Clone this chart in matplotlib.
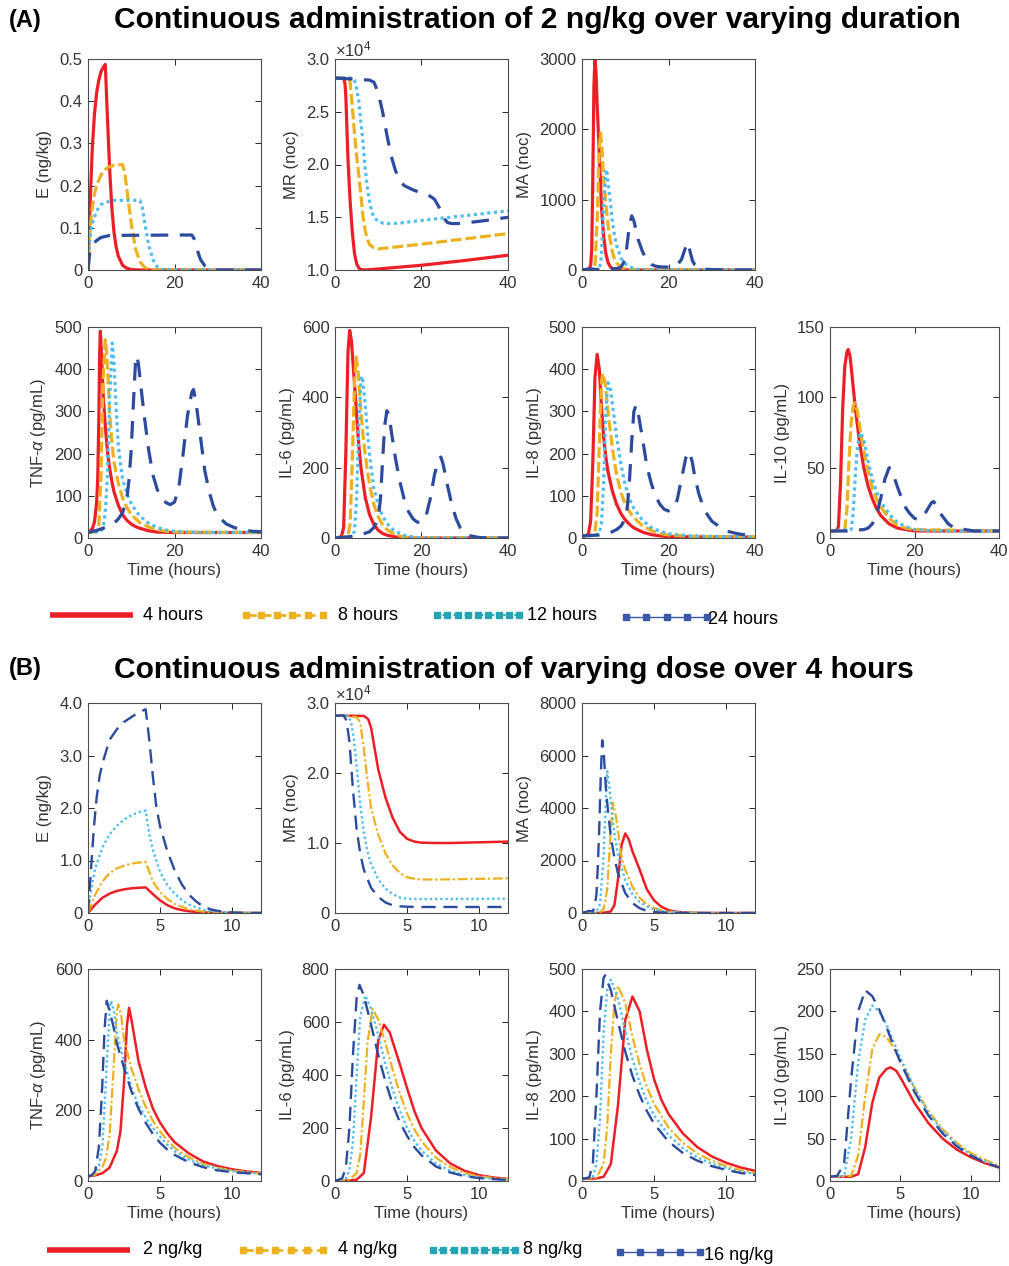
import matplotlib.pyplot as plt

plt.rcParams['font.family'] = ['Liberation Sans', 'DejaVu Sans']
plt.rcParams['mathtext.fontset'] = 'custom'
plt.rcParams['mathtext.rm'] = 'Liberation Sans'
plt.rcParams['mathtext.it'] = 'Liberation Sans:italic'

W, H = 1009, 1266

RED = '#EC1E26'
YEL = '#EDB120'
LBL = '#4DBEEE'
DBL = '#2D4B9E'
TEAL = '#25A5B3'
AXC = '#4d4d4d'

# ---------------- (A) 2 ng/kg over 4, 8, 12, 24 hours : (time h, value) ----------------
A_E = {
    '4 hours': [(0, 0), (0.25, 0.09), (0.5, 0.16), (1, 0.29), (1.5, 0.37), (2, 0.42), (2.5, 0.45),
                (3, 0.47), (3.5, 0.48), (4, 0.487), (4.5, 0.36), (5, 0.24), (5.5, 0.15), (6, 0.09),
                (6.5, 0.055), (7, 0.033), (8, 0.011), (9, 0.004), (10, 0.001), (12, 0), (40, 0)],
    '8 hours': [(0, 0), (0.25, 0.06), (0.5, 0.1), (1, 0.15), (1.5, 0.18), (2, 0.2), (3, 0.225), (4, 0.238),
                (5, 0.245), (6, 0.248), (8, 0.25), (8.5, 0.23), (9, 0.19), (9.5, 0.15), (10, 0.11),
                (10.5, 0.08), (11, 0.05), (12, 0.02), (13, 0.007), (14, 0.002), (15, 0), (40, 0)],
    '12 hours': [(0, 0), (0.25, 0.05), (0.5, 0.08), (1, 0.11), (2, 0.14), (3, 0.155), (4, 0.16), (6, 0.165),
                 (12, 0.165), (12.5, 0.15), (13, 0.12), (13.5, 0.09), (14, 0.06), (15, 0.025), (16, 0.008),
                 (17, 0.002), (18, 0), (40, 0)],
    '24 hours': [(0, 0), (0.5, 0.05), (1, 0.06), (2, 0.07), (3, 0.077), (5, 0.082), (24, 0.083), (24.5, 0.075),
                 (25, 0.06), (25.5, 0.04), (26, 0.025), (27, 0.01), (28, 0.003), (30, 0), (40, 0)],
}
A_MR = {  # x 1e4
    '4 hours': [(0, 2.82), (2, 2.815), (2.3, 2.77), (2.5, 2.65), (2.75, 2.35), (3, 2.05), (3.5, 1.65),
                (4, 1.36), (4.5, 1.16), (5, 1.06), (5.5, 1.02), (6, 1.005), (7, 1.0), (10, 1.01),
                (20, 1.045), (30, 1.09), (40, 1.14)],
    '8 hours': [(0, 2.82), (3, 2.82), (3.5, 2.78), (4, 2.55), (4.5, 2.3), (5, 2.08), (5.5, 1.9), (6, 1.7),
                (6.5, 1.5), (7, 1.37), (7.5, 1.29), (8, 1.24), (9, 1.21), (10, 1.2), (20, 1.245),
                (30, 1.295), (40, 1.345)],
    '12 hours': [(0, 2.82), (4, 2.82), (4.5, 2.8), (5, 2.72), (5.5, 2.6), (6, 2.4), (6.5, 2.2), (7, 1.95),
                 (7.5, 1.78), (8, 1.65), (8.5, 1.55), (9, 1.5), (10, 1.46), (11, 1.445), (12, 1.44),
                 (15, 1.445), (20, 1.47), (30, 1.515), (40, 1.56)],
    '24 hours': [(0, 2.82), (4, 2.81), (8, 2.8), (9, 2.78), (10, 2.68), (11, 2.5), (12, 2.28), (13, 2.08),
                 (14, 1.94), (15, 1.85), (16, 1.8), (18, 1.76), (20, 1.73), (22, 1.7), (23, 1.67), (24, 1.6),
                 (25, 1.5), (26, 1.45), (27, 1.44), (28, 1.44), (30, 1.445), (35, 1.47), (40, 1.5)],
}
A_MA = {
    '4 hours': [(0, 0), (1, 0), (1.5, 10), (2, 60), (2.25, 300), (2.5, 1300), (2.75, 2600), (3, 3030),
                (3.25, 2800), (3.5, 2350), (4, 1650), (4.5, 900), (5, 480), (5.5, 240), (6, 110),
                (6.5, 50), (7, 20), (8, 5), (9, 0), (40, 0)],
    '8 hours': [(0, 0), (2, 0), (3, 50), (3.5, 700), (4, 1750), (4.3, 1950), (4.7, 1650), (5, 1300),
                (5.5, 950), (6, 650), (6.5, 430), (7, 260), (7.5, 160), (8, 100), (9, 40), (10, 15),
                (12, 0), (40, 0)],
    '12 hours': [(0, 0), (4, 0), (4.5, 200), (5, 900), (5.5, 1400), (5.7, 1430), (6, 1250), (6.5, 1000),
                 (7, 700), (7.5, 500), (8, 350), (9, 170), (10, 90), (11, 45), (12, 20), (14, 0), (40, 0)],
    '24 hours': [(0, 0), (1, 10), (2, 15), (4, 5), (6, 15), (8, 20), (9, 40), (10, 150), (10.5, 400),
                 (11, 650), (11.5, 770), (12, 700), (12.5, 560), (13, 430), (14, 260), (15, 140), (16, 80),
                 (17, 55), (18, 45), (20, 40), (21, 45), (22, 70), (23, 150), (24, 330), (24.5, 390),
                 (25, 260), (25.5, 140), (26, 80), (27, 35), (28, 15), (30, 5), (35, 0), (40, 0)],
}
A_TNF = {
    '4 hours': [(0, 13), (1, 22), (1.5, 38), (2, 85), (2.25, 140), (2.5, 280), (2.7, 440), (2.85, 490),
                (3, 460), (3.25, 400), (3.5, 340), (4, 265), (4.5, 205), (5, 165), (5.5, 135), (6, 110),
                (7, 78), (8, 55), (9, 42), (10, 33), (11, 27), (12, 23), (14, 17), (16, 14), (20, 13), (40, 13)],
    '8 hours': [(0, 13), (2, 15), (2.5, 30), (3, 150), (3.5, 380), (4, 470), (4.3, 440), (5, 300),
                (5.5, 230), (6, 180), (7, 130), (8, 95), (9, 72), (10, 56), (12, 36), (14, 26), (16, 20),
                (18, 16), (20, 14), (40, 13)],
    '12 hours': [(0, 13), (3, 15), (3.5, 25), (4, 60), (4.5, 150), (5, 330), (5.6, 462), (6, 420),
                 (6.5, 310), (7, 220), (7.5, 175), (8, 140), (9, 105), (10, 82), (11, 65), (12, 52),
                 (14, 35), (16, 25), (18, 19), (20, 16), (25, 13), (40, 13)],
    '24 hours': [(0, 13), (2, 18), (4, 25), (6, 35), (7, 45), (8, 60), (9, 95), (9.5, 140), (10, 210),
                 (10.5, 320), (11, 420), (11.3, 432), (11.7, 410), (12, 380), (13, 290), (14, 210),
                 (15, 150), (16, 115), (17, 95), (18, 84), (19, 79), (20, 85), (21, 120), (22, 200),
                 (23, 290), (24, 345), (24.4, 352), (25, 320), (26, 240), (27, 160), (28, 110), (29, 75),
                 (30, 52), (32, 33), (34, 24), (36, 19), (38, 16), (40, 15)],
}
A_IL6 = {
    '4 hours': [(0, 0), (1, 2), (1.5, 5), (2, 30), (2.5, 240), (3, 530), (3.4, 590), (3.8, 560), (4.5, 440),
                (5, 350), (5.5, 265), (6, 200), (7, 115), (8, 66), (9, 38), (10, 22), (11, 13), (12, 8),
                (14, 3), (16, 0), (40, 0)],
    '8 hours': [(0, 0), (2, 2), (3, 8), (3.5, 40), (4, 220), (4.5, 440), (4.9, 515), (5.3, 480), (6, 360),
                (6.5, 290), (7, 235), (8, 150), (9, 95), (10, 60), (11, 38), (12, 24), (14, 9), (16, 3),
                (18, 0), (40, 0)],
    '12 hours': [(0, 0), (3, 2), (4, 5), (4.5, 20), (5, 110), (5.5, 320), (6, 450), (6.3, 460), (7, 380),
                 (7.5, 300), (8, 235), (9, 140), (10, 95), (11, 62), (12, 42), (13, 28), (14, 18), (16, 8),
                 (18, 3), (20, 0), (40, 0)],
    '24 hours': [(0, 0), (2, 2), (4, 5), (6, 9), (8, 18), (9, 30), (10, 55), (10.5, 110), (11, 220),
                 (11.5, 320), (12, 362), (12.5, 350), (13, 305), (14, 225), (15, 160), (16, 110), (17, 75),
                 (18, 55), (19, 45), (20, 45), (21, 60), (22, 110), (23, 180), (24, 225), (24.5, 230),
                 (25, 210), (26, 150), (27, 95), (28, 55), (29, 28), (30, 14), (31, 7), (33, 2), (35, 0),
                 (40, 0)],
}
A_IL8 = {
    '4 hours': [(0, 5), (1, 6), (1.5, 10), (2, 40), (2.5, 180), (3, 380), (3.5, 435), (4, 400), (4.5, 310),
                (5, 240), (5.5, 192), (6, 158), (7, 112), (8, 80), (9, 58), (10, 43), (11, 32), (12, 24),
                (14, 14), (16, 8), (18, 5), (20, 3), (40, 2)],
    '8 hours': [(0, 5), (2, 6), (3, 15), (3.5, 60), (4, 220), (4.5, 370), (4.8, 390), (5.3, 370), (6, 300),
                (7, 215), (8, 150), (9, 108), (10, 80), (11, 62), (12, 48), (14, 29), (16, 18), (18, 11),
                (20, 7), (25, 4), (40, 2)],
    '12 hours': [(0, 5), (3, 6), (4, 12), (4.5, 35), (5, 130), (5.5, 300), (6, 368), (6.5, 360), (7, 320),
                 (8, 240), (9, 175), (10, 125), (11, 92), (12, 70), (14, 42), (16, 25), (18, 16), (20, 10),
                 (25, 5), (40, 2)],
    '24 hours': [(0, 5), (2, 6), (4, 7), (6, 10), (8, 20), (9, 28), (10, 45), (10.5, 75), (11, 140),
                 (11.5, 230), (12, 300), (12.5, 315), (13, 295), (14, 235), (15, 170), (16, 130), (17, 100),
                 (18, 80), (19, 68), (20, 64), (21, 68), (22, 90), (23, 140), (24, 190), (24.8, 205),
                 (25.5, 180), (26, 150), (27, 105), (28, 75), (29, 55), (30, 40), (32, 25), (34, 15),
                 (36, 10), (38, 7), (40, 5)],
}
A_IL10 = {
    '4 hours': [(0, 5), (1.5, 5), (2, 8), (2.5, 40), (3, 92), (3.5, 122), (4, 132), (4.3, 134), (4.7, 130),
                (5, 122), (6, 92), (7, 68), (8, 50), (9, 37), (10, 28), (11, 21), (12, 16), (14, 10), (16, 7),
                (18, 6), (20, 5), (40, 5)],
    '8 hours': [(0, 5), (3, 5), (3.5, 6), (4, 20), (4.5, 55), (5, 82), (5.5, 94), (5.9, 96), (6.5, 90),
                (7, 80), (8, 62), (9, 48), (10, 36), (11, 28), (12, 22), (14, 14), (16, 9), (18, 7), (20, 6),
                (40, 5)],
    '12 hours': [(0, 5), (5, 6), (5.5, 18), (6, 45), (6.5, 65), (7.2, 75), (8, 70), (9, 55), (10, 42),
                 (11, 33), (12, 26), (14, 17), (16, 11), (18, 8), (20, 6), (25, 5), (40, 5)],
    '24 hours': [(0, 5), (4, 5), (6, 5.5), (8, 6), (9, 7), (10, 10), (11, 16), (12, 28), (13, 42), (14, 50),
                 (15, 45), (16, 36), (17, 28), (18, 21), (19, 17), (20, 14), (21, 13), (22, 15), (23, 20),
                 (24, 25), (24.5, 26), (25, 24), (26, 18), (27, 14), (28, 10), (29, 8), (30, 7), (32, 6),
                 (34, 5), (40, 5)],
}

# ---------------- (B) 2, 4, 8, 16 ng/kg over 4 hours ----------------
B_E = {
    '2 ng/kg': [(0, 0), (0.25, 0.08), (0.5, 0.16), (1, 0.29), (1.5, 0.37), (2, 0.42), (2.5, 0.45), (3, 0.47),
                (3.5, 0.48), (4, 0.487), (4.5, 0.36), (5, 0.24), (5.5, 0.15), (6, 0.09), (6.5, 0.055),
                (7, 0.033), (8, 0.011), (9, 0.004), (10, 0.001), (12, 0)],
    '4 ng/kg': [(0, 0), (0.25, 0.17), (0.5, 0.35), (1, 0.6), (1.5, 0.76), (2, 0.85), (2.5, 0.9), (3, 0.94),
                (3.5, 0.96), (4, 0.97), (4.5, 0.6), (5, 0.4), (5.5, 0.27), (6, 0.17), (7, 0.07), (8, 0.025),
                (9, 0.008), (10, 0.002), (12, 0)],
    '8 ng/kg': [(0, 0), (0.25, 0.5), (0.5, 0.85), (1, 1.25), (1.5, 1.5), (2, 1.66), (2.5, 1.78), (3, 1.86),
                (3.5, 1.92), (4, 1.95), (4.25, 1.5), (4.5, 1.2), (5, 0.78), (5.5, 0.53), (6, 0.37),
                (6.5, 0.25), (7, 0.16), (8, 0.06), (9, 0.02), (10, 0.005), (12, 0)],
    '16 ng/kg': [(0, 0), (0.2, 0.8), (0.4, 1.6), (0.6, 2.2), (0.8, 2.6), (1, 2.85), (1.5, 3.3), (2, 3.5),
                 (2.5, 3.64), (3, 3.73), (3.5, 3.82), (4, 3.88), (4.25, 3.3), (4.5, 2.6), (4.75, 2.0),
                 (5, 1.65), (5.5, 1.18), (6, 0.82), (6.5, 0.55), (7, 0.35), (7.5, 0.22), (8, 0.12),
                 (8.5, 0.07), (9, 0.04), (10, 0.01), (11, 0.003), (12, 0)],
}
B_MR = {  # x 1e4
    '2 ng/kg': [(0, 2.82), (2, 2.815), (2.3, 2.77), (2.5, 2.65), (2.75, 2.35), (3, 2.05), (3.5, 1.65),
                (4, 1.36), (4.5, 1.16), (5, 1.06), (5.5, 1.02), (6, 1.005), (7, 1.0), (8, 1.0), (10, 1.01),
                (12, 1.02)],
    '4 ng/kg': [(0, 2.82), (1.5, 2.8), (1.75, 2.72), (2, 2.35), (2.25, 1.9), (2.5, 1.5), (3, 1.12),
                (3.5, 0.85), (4, 0.68), (4.5, 0.57), (5, 0.51), (5.5, 0.49), (6, 0.48), (7, 0.478),
                (9, 0.485), (12, 0.495)],
    '8 ng/kg': [(0, 2.82), (0.8, 2.82), (1.1, 2.75), (1.3, 2.5), (1.5, 2.1), (1.75, 1.55), (2, 1.15),
                (2.25, 0.88), (2.5, 0.7), (3, 0.48), (3.5, 0.35), (4, 0.27), (4.5, 0.22), (5, 0.205),
                (6, 0.2), (8, 0.2), (12, 0.205)],
    '16 ng/kg': [(0, 2.82), (0.6, 2.82), (0.8, 2.75), (1, 2.45), (1.25, 1.75), (1.5, 1.2), (1.75, 0.85),
                 (2, 0.62), (2.5, 0.36), (3, 0.23), (3.5, 0.15), (4, 0.11), (4.5, 0.095), (5, 0.09),
                 (6, 0.086), (12, 0.086)],
}
B_MA = {
    '2 ng/kg': [(0, 0), (1, 0), (1.5, 10), (2, 60), (2.25, 300), (2.5, 1300), (2.75, 2600), (3, 3030),
                (3.25, 2800), (3.5, 2350), (4, 1650), (4.5, 900), (5, 480), (5.5, 240), (6, 110), (6.5, 50),
                (7, 20), (8, 5), (9, 0), (12, 0)],
    '4 ng/kg': [(0, 0), (1, 5), (1.25, 30), (1.5, 150), (1.75, 900), (2, 3200), (2.15, 4200), (2.35, 3700),
                (2.5, 3100), (2.75, 2100), (3, 1650), (3.5, 1000), (4, 580), (4.5, 330), (5, 190),
                (5.5, 100), (6, 55), (7, 15), (8, 5), (9, 0), (12, 0)],
    '8 ng/kg': [(0, 0), (0.75, 10), (1, 50), (1.25, 350), (1.5, 2150), (1.65, 4300), (1.75, 5400),
                (1.9, 4800), (2, 4200), (2.25, 3000), (2.5, 2200), (3, 1250), (3.5, 720), (4, 420),
                (4.5, 250), (5, 140), (5.5, 75), (6, 40), (7, 12), (8, 3), (9, 0), (12, 0)],
    '16 ng/kg': [(0, 0), (0.25, 40), (0.5, 80), (0.75, 60), (0.9, 300), (1, 700), (1.1, 1800), (1.2, 3300),
                 (1.3, 5200), (1.4, 6580), (1.5, 6200), (1.65, 4800), (1.8, 3900), (2, 2900), (2.25, 2100),
                 (2.5, 1500), (3, 760), (3.5, 380), (4, 180), (4.5, 80), (5, 35), (6, 10), (7, 3), (8, 0),
                 (12, 0)],
}
B_TNF = {
    '2 ng/kg': [(0, 13), (0.5, 16), (1, 22), (1.5, 38), (2, 85), (2.25, 140), (2.5, 280), (2.7, 440),
                (2.85, 490), (3, 460), (3.25, 400), (3.5, 340), (4, 265), (4.5, 205), (5, 165), (5.5, 135),
                (6, 110), (7, 78), (8, 55), (9, 42), (10, 33), (11, 27), (12, 23)],
    '4 ng/kg': [(0, 13), (0.5, 18), (1, 40), (1.25, 65), (1.5, 130), (1.75, 300), (2, 480), (2.1, 500),
                (2.3, 470), (2.5, 400), (3, 320), (3.5, 260), (4, 210), (4.5, 170), (5, 140), (5.5, 115),
                (6, 95), (6.5, 80), (7, 67), (8, 48), (9, 37), (10, 30), (11, 25), (12, 21)],
    '8 ng/kg': [(0, 13), (0.5, 25), (0.75, 40), (1, 100), (1.25, 290), (1.5, 480), (1.6, 510), (1.8, 480),
                (2, 420), (2.5, 340), (3, 265), (3.5, 215), (4, 180), (4.5, 150), (5, 125), (5.5, 103),
                (6, 85), (7, 60), (8, 45), (9, 35), (10, 28), (11, 24), (12, 21)],
    '16 ng/kg': [(0, 13), (0.25, 16), (0.5, 28), (0.75, 95), (0.9, 200), (1, 280), (1.15, 430), (1.3, 510),
                 (1.5, 480), (1.75, 440), (2, 390), (2.5, 320), (3, 255), (3.5, 205), (4, 165), (4.5, 133),
                 (5, 108), (5.5, 89), (6, 74), (7, 53), (8, 39), (9, 30), (10, 25), (11, 22), (12, 19)],
}
B_IL6 = {
    '2 ng/kg': [(0, 0), (1, 2), (1.5, 5), (2, 30), (2.5, 240), (3, 530), (3.4, 590), (3.8, 560), (4.5, 440),
                (5, 350), (5.5, 265), (6, 200), (7, 115), (8, 66), (9, 38), (10, 22), (11, 13), (12, 8)],
    '4 ng/kg': [(0, 0), (1, 5), (1.5, 30), (1.75, 100), (2, 300), (2.25, 520), (2.6, 650), (3, 610),
                (3.5, 520), (4, 420), (4.5, 330), (5, 255), (5.5, 195), (6, 150), (7, 88), (8, 52), (9, 30),
                (10, 18), (11, 11), (12, 7)],
    '8 ng/kg': [(0, 0), (0.75, 10), (1, 40), (1.25, 150), (1.5, 400), (1.75, 620), (2.1, 700), (2.5, 650),
                (3, 550), (3.5, 440), (4, 345), (4.5, 265), (5, 200), (5.5, 152), (6, 115), (7, 66), (8, 38),
                (9, 22), (10, 13), (11, 8), (12, 5)],
    '16 ng/kg': [(0, 0), (0.5, 10), (0.75, 50), (1, 200), (1.25, 480), (1.5, 690), (1.7, 740), (2, 700),
                 (2.5, 590), (3, 475), (3.5, 375), (4, 290), (4.5, 222), (5, 170), (5.5, 128), (6, 97),
                 (7, 55), (8, 32), (9, 18), (10, 11), (11, 7), (12, 4)],
}
B_IL8 = {
    '2 ng/kg': [(0, 5), (1, 6), (1.5, 10), (2, 40), (2.5, 180), (3, 380), (3.5, 435), (4, 400), (4.5, 310),
                (5, 240), (5.5, 192), (6, 158), (7, 112), (8, 80), (9, 58), (10, 43), (11, 32), (12, 24)],
    '4 ng/kg': [(0, 5), (1, 8), (1.5, 40), (1.75, 130), (2, 300), (2.25, 420), (2.5, 460), (3, 420),
                (3.5, 340), (4, 275), (4.5, 222), (5, 182), (6, 126), (7, 90), (8, 65), (9, 48), (10, 35),
                (11, 26), (12, 19)],
    '8 ng/kg': [(0, 5), (0.75, 10), (1, 40), (1.25, 150), (1.5, 350), (1.75, 450), (2, 475), (2.5, 430),
                (3, 355), (3.5, 288), (4, 232), (4.5, 188), (5, 155), (6, 108), (7, 77), (8, 56), (9, 41),
                (10, 30), (11, 22), (12, 17)],
    '16 ng/kg': [(0, 5), (0.5, 8), (0.75, 40), (1, 200), (1.25, 400), (1.5, 480), (1.6, 485), (2, 450),
                 (2.5, 375), (3, 305), (3.5, 248), (4, 202), (4.5, 165), (5, 135), (6, 93), (7, 66), (8, 48),
                 (9, 35), (10, 26), (11, 19), (12, 14)],
}
B_IL10 = {
    '2 ng/kg': [(0, 5), (1.5, 5), (2, 8), (2.5, 40), (3, 92), (3.5, 122), (4, 132), (4.3, 134), (4.7, 130),
                (5, 122), (6, 92), (7, 68), (8, 50), (9, 37), (10, 28), (11, 21), (12, 16)],
    '4 ng/kg': [(0, 5), (1.5, 6), (2, 30), (2.5, 100), (3, 155), (3.5, 173), (4, 170), (4.5, 158), (5, 142),
                (6, 110), (7, 82), (8, 61), (9, 45), (10, 33), (11, 25), (12, 18)],
    '8 ng/kg': [(0, 5), (1, 6), (1.5, 50), (2, 140), (2.5, 190), (3, 207), (3.5, 200), (4, 185), (4.5, 165),
                (5, 145), (6, 110), (7, 80), (8, 59), (9, 43), (10, 31), (11, 23), (12, 17)],
    '16 ng/kg': [(0, 5), (0.5, 6), (1, 20), (1.5, 120), (2, 200), (2.5, 225), (3, 218), (3.5, 202), (4, 182),
                 (4.5, 160), (5, 140), (6, 105), (7, 77), (8, 56), (9, 41), (10, 30), (11, 22), (12, 16)],
}

labels_A = ['4 hours', '8 hours', '12 hours', '24 hours']
labels_B = ['2 ng/kg', '4 ng/kg', '8 ng/kg', '16 ng/kg']

sty_A = [dict(color=RED, lw=2.3, ls='-'),
         dict(color=YEL, lw=2.3, dashes=(3.4, 1.2)),
         dict(color=LBL, lw=2.3, dashes=(1, 1.1)),
         dict(color=DBL, lw=2.3, dashes=(5.5, 3.6))]
sty_B = [dict(color=RED, lw=1.8, ls='-'),
         dict(color=YEL, lw=1.6, dashes=(4.5, 1.2, 1, 1.2)),
         dict(color=LBL, lw=1.7, dashes=(1, 1.2)),
         dict(color=DBL, lw=1.7, dashes=(6, 3.3))]

# panel pixel boxes
col_x = [88, 335, 582, 830]
col_w = [173, 173, 173, 169]
rows = [(59, 270), (327, 538), (703, 913), (969, 1181)]

fig = plt.figure(figsize=(W / 100, H / 100), dpi=100)


def make_ax(col, row):
    top, bot = rows[row]
    ax = fig.add_axes([col_x[col] / W, 1 - bot / H, col_w[col] / W, (bot - top) / H])
    for s in ax.spines.values():
        s.set_color(AXC)
        s.set_linewidth(0.8)
    ax.tick_params(direction='in', top=True, right=True, length=4, width=0.7,
                   colors='#262626', labelsize=12, labelcolor='#333333', pad=4)
    return ax


def draw(ax, curves, labels, styles, xlim, xticks, ylim, yticks, ylab,
         yticklabels=None, xlab=False, sci=False):
    for lab, st in zip(labels, styles):
        pts = curves[lab]
        ax.plot([p[0] for p in pts], [p[1] for p in pts], solid_capstyle='butt',
                dash_capstyle='butt', **st)
    ax.set_xlim(xlim)
    ax.set_ylim(ylim)
    ax.set_xticks(xticks)
    ax.set_yticks(yticks)
    if yticklabels is not None:
        ax.set_yticklabels(yticklabels)
    ax.set_ylabel(ylab, fontsize=12, color='#333333', labelpad=5)
    if xlab:
        ax.set_xlabel('Time (hours)', fontsize=12, color='#333333', labelpad=3)
    if sci:
        ax.text(0.0, 1.0, r'$\times10^4$', transform=ax.transAxes, fontsize=12,
                color='#333333', ha='left', va='bottom')


tnf_lab = r'TNF-$\alpha$ (pg/mL)'
xa = ((0, 40), [0, 20, 40])
xb = ((0, 12), [0, 5, 10])

panels = [
    # (col,row, data, labels, styles, x, ylim, yticks, ylabel, yticklabels, xlabel, sci)
    (0, 0, A_E, labels_A, sty_A, xa, (0, 0.5), [0, .1, .2, .3, .4, .5], 'E (ng/kg)',
     ['0', '0.1', '0.2', '0.3', '0.4', '0.5'], False, False),
    (1, 0, A_MR, labels_A, sty_A, xa, (1, 3), [1, 1.5, 2, 2.5, 3], 'MR (noc)',
     ['1.0', '1.5', '2.0', '2.5', '3.0'], False, True),
    (2, 0, A_MA, labels_A, sty_A, xa, (0, 3000), [0, 1000, 2000, 3000], 'MA (noc)', None, False, False),
    (0, 1, A_TNF, labels_A, sty_A, xa, (0, 500), [0, 100, 200, 300, 400, 500], tnf_lab, None, True, False),
    (1, 1, A_IL6, labels_A, sty_A, xa, (0, 600), [0, 200, 400, 600], 'IL-6 (pg/mL)', None, True, False),
    (2, 1, A_IL8, labels_A, sty_A, xa, (0, 500), [0, 100, 200, 300, 400, 500], 'IL-8 (pg/mL)', None, True, False),
    (3, 1, A_IL10, labels_A, sty_A, xa, (0, 150), [0, 50, 100, 150], 'IL-10 (pg/mL)', None, True, False),
    (0, 2, B_E, labels_B, sty_B, xb, (0, 4), [0, 1, 2, 3, 4], 'E (ng/kg)',
     ['0', '1.0', '2.0', '3.0', '4.0'], False, False),
    (1, 2, B_MR, labels_B, sty_B, xb, (0, 3), [0, 1, 2, 3], 'MR (noc)',
     ['0', '1.0', '2.0', '3.0'], False, True),
    (2, 2, B_MA, labels_B, sty_B, xb, (0, 8000), [0, 2000, 4000, 6000, 8000], 'MA (noc)', None, False, False),
    (0, 3, B_TNF, labels_B, sty_B, xb, (0, 600), [0, 200, 400, 600], tnf_lab, None, True, False),
    (1, 3, B_IL6, labels_B, sty_B, xb, (0, 800), [0, 200, 400, 600, 800], 'IL-6 (pg/mL)', None, True, False),
    (2, 3, B_IL8, labels_B, sty_B, xb, (0, 500), [0, 100, 200, 300, 400, 500], 'IL-8 (pg/mL)', None, True, False),
    (3, 3, B_IL10, labels_B, sty_B, xb, (0, 250), [0, 50, 100, 150, 200, 250], 'IL-10 (pg/mL)', None, True, False),
]

for col, row, data, labs, stys, xs, yl, yt, ylab, ytl, xlab, sci in panels:
    ax = make_ax(col, row)
    draw(ax, data, labs, stys, xs[0], xs[1], yl, yt, ylab, ytl, xlab, sci)

# overlay in pixel coordinates for titles and legends
ov = fig.add_axes([0, 0, 1, 1], zorder=-1)
ov.set_xlim(0, W)
ov.set_ylim(H, 0)
ov.axis('off')

ov.text(9, 20, '(A)', fontsize=17, fontweight='bold', ha='left', va='center')
ov.text(537, 20, 'Continuous administration of 2 ng/kg over varying duration',
        fontsize=21.6, fontweight='bold', ha='center', va='center')
ov.text(9, 668, '(B)', fontsize=17, fontweight='bold', ha='left', va='center')
ov.text(514, 670, 'Continuous administration of varying dose over 4 hours',
        fontsize=21.6, fontweight='bold', ha='center', va='center')


def legend_row(y, names, xs, dy_last):
    (x0, x1), (x2, x3), (x4, x5), (x6, x7) = xs[:4]
    tx = xs[4]
    ov.plot([x0, x1], [y, y], color=RED, lw=4, solid_capstyle='butt')
    n = 6
    px = [x2 + (x3 - x2) * i / (n - 1) for i in range(n)]
    ov.plot(px, [y] * n, color=YEL, lw=2, ls='--', marker='s', ms=5, mec=YEL)
    n = 9
    px = [x4 + (x5 - x4) * i / (n - 1) for i in range(n)]
    ov.plot(px, [y] * n, color=TEAL, lw=1.5, ls=':', marker='s', ms=4, mec=TEAL)
    n = 5
    px = [x6 + (x7 - x6) * i / (n - 1) for i in range(n)]
    ov.plot(px, [y + 2] * n, color='#3A58A8', lw=1, ls='-', marker='s', ms=5, mec='#3A58A8')
    for i, name in enumerate(names):
        ov.text(tx[i], y + (dy_last if i == 3 else 0), name, fontsize=13, ha='left', va='center')


legend_row(615, labels_A, [(50, 133), (246, 323), (437, 519), (626, 707), (143, 338, 527, 708)], 4)
legend_row(1250, labels_B, [(47, 130), (243, 323), (433, 515), (620, 700), (143, 338, 523, 704)], 5)

fig.savefig('out.png', dpi=100)
